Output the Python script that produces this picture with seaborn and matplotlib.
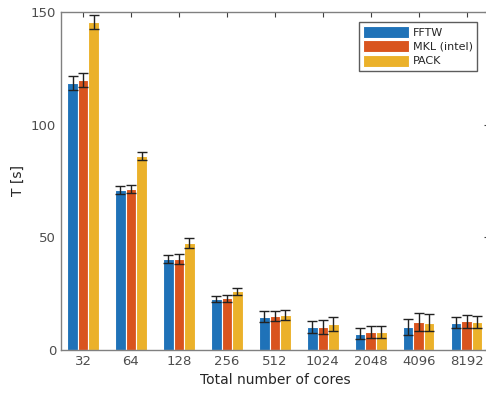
import numpy as np
import pandas as pd
import matplotlib
matplotlib.use('Agg')
import matplotlib.pyplot as plt
import seaborn as sns

sns.set_style("white")
plt.rcParams['font.family'] = ['DejaVu Sans']

cores = ['32', '64', '128', '256', '512', '1024', '2048', '4096', '8192']
libs = ['FFTW', 'MKL (intel)', 'PACK']
fftw = [118.5, 71.0, 40.3, 22.6, 14.8, 10.2, 7.3, 10.3, 12.1]
mkl = [119.7, 71.6, 40.5, 23.0, 15.1, 10.2, 7.9, 12.4, 12.7]
pack = [145.5, 86.2, 47.6, 26.0, 15.5, 11.5, 8.0, 12.1, 12.4]
fftw_err = [3.0, 1.8, 1.8, 1.5, 2.3, 2.8, 2.5, 3.5, 2.5]
mkl_err = [3.2, 1.8, 2.2, 1.5, 2.3, 3.0, 2.7, 3.8, 2.8]
pack_err = [3.2, 1.8, 2.2, 1.5, 2.3, 3.0, 2.7, 3.8, 2.8]
colors = ['#1f72b8', '#d9541e', '#ebb12a']

df = pd.DataFrame({
    'cores': cores * 3,
    'lib': np.repeat(libs, len(cores)),
    'T': fftw + mkl + pack,
    'err': fftw_err + mkl_err + pack_err,
})

fig = plt.figure(figsize=(4.86, 3.95), dpi=100)
ax = fig.add_axes([0.1255, 0.114, 0.88, 0.856])
sns.barplot(data=df, x='cores', y='T', hue='lib', palette=colors,
            errorbar=None, width=0.66, saturation=1, ax=ax,
            edgecolor='white', linewidth=0.8)

# error bars at bar centres
for cont, lib in zip(ax.containers, libs):
    sub = df[df['lib'] == lib]
    xs = [p.get_x() + p.get_width() / 2 for p in cont.patches]
    ax.errorbar(xs, sub['T'], yerr=sub['err'], fmt='none', ecolor='#222222',
                elinewidth=1, capsize=3.5, capthick=1)

ax.set_ylim(0, 150)
ax.set_xlim(-0.46, 8.46)
ax.set_yticks([0, 50, 100, 150])
ax.set_xlabel('Total number of cores', fontsize=10, color='#262626')
ax.set_ylabel('T [s]', fontsize=10, color='#262626')
for s in ax.spines.values():
    s.set_color('#808080')
    s.set_linewidth(1)
ax.tick_params(direction='in', length=3.5, color='#404040', labelsize=9.5,
               labelcolor='#4d4d4d', top=True, right=True)
ax.legend(loc='upper right', frameon=True, fancybox=False, edgecolor='#333333',
          fontsize=8, handlelength=4.2, handleheight=1.3, labelspacing=0.2,
          handletextpad=0.3, borderpad=0.35, borderaxespad=0,
          bbox_to_anchor=(0.972, 0.97))

plt.savefig('out.png', dpi=100)
plt.close()
